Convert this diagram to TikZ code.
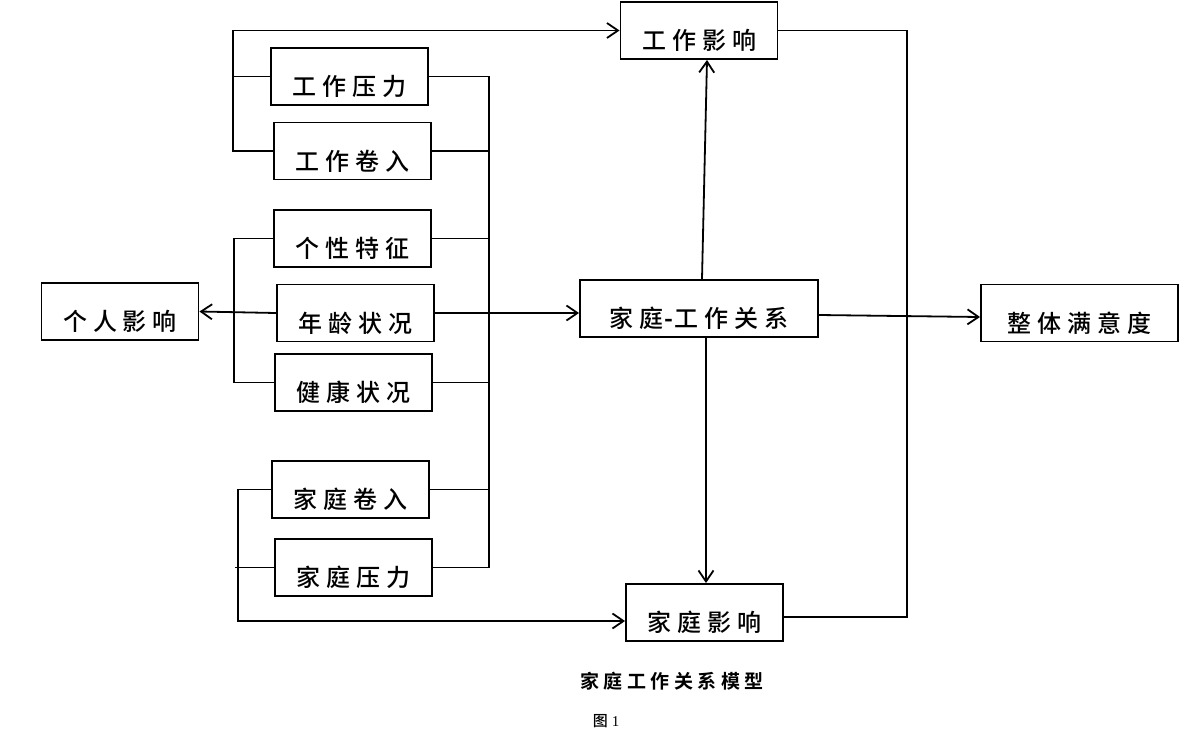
\documentclass[tikz,border=0pt]{standalone}
\usepackage{fontspec}
\setmainfont{Liberation Serif}
\newfontfamily\cjk{Noto Sans CJK SC Medium}
\newfontfamily\cjkb{Noto Sans CJK SC Bold}
\usetikzlibrary{arrows.meta,calc}
\newcommand\lsa{\hspace{6pt}}
\newcommand\lsb{\hspace{4.5pt}}
\tikzset{
  box/.style={draw, line width=1.9pt, minimum width=157pt, minimum height=57pt,
    inner sep=0pt, text height=38pt, text depth=0pt,
    font=\cjk\fontsize{24pt}{28pt}\selectfont},
  ln/.style={line width=1.8pt},
  arr/.style={ln, -{Straight Barb[length=11pt,width=15pt,line width=1.8pt]}},
  capt/.style={inner sep=0pt}
}
\begin{document}
\begin{tikzpicture}[x=1pt,y=-1pt]
\useasboundingbox[fill=white] (0,0) rectangle (1200,742);

% boxes
\node[box] (gzyx) at (699,30.5) {工\lsa 作\lsa 影\lsa 响};
\node[box] (gzyl) at (349.5,76.5) {工\lsa 作\lsa 压\lsa 力};
\node[box] (gzjr) at (352.5,151) {工\lsa 作\lsa 卷\lsa 入};
\node[box] (gxtz) at (352.5,238.5) {个\lsa 性\lsa 特\lsa 征};
\node[box] (grjx) at (120,311.5) {个\lsa 人\lsa 影\lsa 响};
\node[box] (nlzk) at (355.5,313) {年\lsa 龄\lsa 状\lsa 况};
\node[box] (jkzk) at (353.5,382.5) {健\lsa 康\lsa 状\lsa 况};
\node[box, minimum width=238pt] (jtgx) at (699,308.5) {家\lsa 庭\hspace{1pt}{\cjkb -}\hspace{1pt}工\lsa 作\lsa 关\lsa 系};
\node[box, minimum width=197pt] (ztmy) at (1079.5,313) {整\lsa 体\lsa 满\lsa 意\lsa 度};
\node[box] (jtjr) at (350.5,489.5) {家\lsa 庭\lsa 卷\lsa 入};
\node[box] (jtyl) at (353.5,567.5) {家\lsa 庭\lsa 压\lsa 力};
\node[box] (jtyx) at (704.5,612.5) {家\lsa 庭\lsa 影\lsa 响};

% captions
\node[capt, font=\cjkb\fontsize{19pt}{22pt}\selectfont] (cap) at (672,681) {家\lsb 庭\lsb 工\lsb 作\lsb 关\lsb 系\lsb 模\lsb 型};
\node[capt, font=\fontsize{15pt}{18pt}\selectfont] (fig) at (606,721) {{\cjk 图}\hspace{4pt}1};

% helper coordinates
\coordinate (ctop) at (233,30.5);
\coordinate (pb1) at (234,238.5);
\coordinate (pb2) at (234,382.5);
\coordinate (fb) at (238,621);
\coordinate (fstub) at (235,567.5);
\coordinate (bustop) at (489,76.5);
\coordinate (busbot) at (489,567.5);
\coordinate (rc) at (907,617);

% work bracket -> work impact
\draw[arr] (gzjr.west) -| (ctop) -- (gzyx.west);
\draw[ln] (gzyl.west) -- (gzyl.west -| ctop);

% personal bracket -> personal impact
\draw[ln] (gxtz.west) -- (pb1) -- (pb2) -- (jkzk.west);
\draw[arr] (nlzk.west) -- (grjx.east);

% family bracket -> family impact
\draw[arr] (jtjr.west) -| (fb) -- (jtyx.west |- fb);
\draw[ln] (jtyl.west) -- (fstub);

% bus
\draw[ln] (gzyl.east) -- (bustop) -- (busbot) -- (jtyl.east);
\draw[ln] (gzjr.east) -- (gzjr.east -| bustop);
\draw[ln] (gxtz.east) -- (gxtz.east -| bustop);
\draw[ln] (jkzk.east) -- (jkzk.east -| bustop);
\draw[ln] (jtjr.east) -- (jtjr.east -| bustop);
\draw[arr] (nlzk.east) -- (jtgx.west |- nlzk.east);

% relation outputs
\draw[arr] ([xshift=3pt]jtgx.north) -- ([xshift=8pt]gzyx.south);
\draw[arr] ([xshift=7pt]jtgx.south) -- ([xshift=1.5pt]jtyx.north);
\draw[arr] ([yshift=-6.5pt]jtgx.east) -- ([yshift=-4pt]ztmy.west);

% right connector
\draw[ln] (gzyx.east) -| (rc) -- (jtyx.east |- rc);
\end{tikzpicture}
\end{document}
